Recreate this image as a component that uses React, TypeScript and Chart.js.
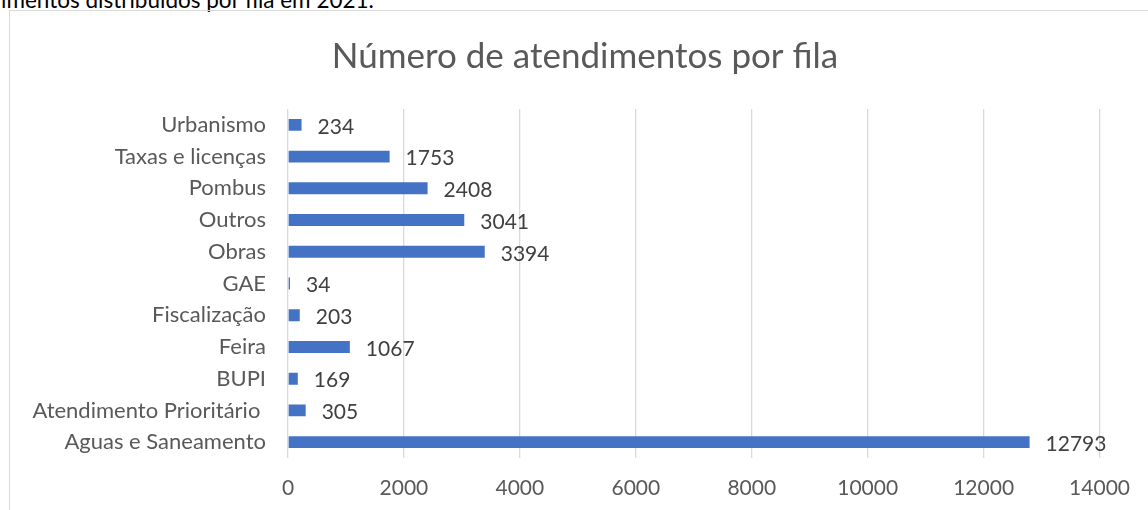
import React, { useEffect, useRef } from "react";
import { Chart, registerables } from "chart.js";

Chart.register(...registerables);

const categories = [
  "Urbanismo",
  "Taxas e licenças",
  "Pombus",
  "Outros",
  "Obras",
  "GAE",
  "Fiscalização",
  "Feira",
  "BUPI",
  "Atendimento Prioritário ",
  "Aguas e Saneamento",
];
const values = [234, 1753, 2408, 3041, 3394, 34, 203, 1067, 169, 305, 12793];
const chartTitle = "Número de atendimentos por fila";
const headerText = "imentos distribuídos por fila em 2021.";
const xMin = 0;
const xMax = 14000;
const xStep = 2000;

const FONT = "Lato, 'Open Sans', sans-serif";

const valueLabels = {
  id: "valueLabels",
  afterDatasetsDraw(chart: any) {
    const ctx = chart.ctx;
    const meta = chart.getDatasetMeta(0);
    ctx.save();
    ctx.font = `21px ${FONT}`;
    ctx.fillStyle = "#404040";
    ctx.textAlign = "left";
    ctx.textBaseline = "middle";
    meta.data.forEach((bar: any, i: number) => {
      ctx.fillText(String(values[i]), bar.x + 16, bar.y + 2);
    });
    ctx.restore();
  },
};

// Title centred on the chart frame (which starts at x=10 and runs past the right edge)
const frameTitle = {
  id: "frameTitle",
  afterDraw(chart: any) {
    const ctx = chart.ctx;
    ctx.save();
    ctx.font = `35px ${FONT}`;
    ctx.fillStyle = "#595959";
    ctx.textAlign = "center";
    ctx.textBaseline = "middle";
    ctx.fillText(chartTitle, 585, 57);
    ctx.restore();
  },
};

export default function App() {
  const ref = useRef<HTMLCanvasElement | null>(null);
  useEffect(() => {
    if (!ref.current) return;
    const chart = new Chart(ref.current, {
      type: "bar",
      data: {
        labels: categories,
        datasets: [
          {
            data: values,
            backgroundColor: "#4472C4",
            barPercentage: 0.47,
            categoryPercentage: 0.8,
          },
        ],
      },
      options: {
        indexAxis: "y",
        responsive: false,
        animation: false,
        layout: { padding: { left: 0, right: 47, top: 109, bottom: 0 } },
        plugins: {
          legend: { display: false },
          tooltip: { enabled: false },
          title: { display: false },
        },
        scales: {
          x: {
            min: xMin,
            max: xMax,
            ticks: {
              stepSize: xStep,
              color: "#595959",
              font: { family: FONT, size: 21 },
              padding: 18,
              callback: (v: any) => String(v),
            },
            grid: { color: "#D9D9D9", lineWidth: 1.3, drawTicks: false },
            border: { display: false },
            afterFit: (s: any) => {
              s.height = 52;
            },
          },
          y: {
            ticks: {
              color: "#595959",
              font: { family: FONT, size: 22 },
              padding: 22,
              autoSkip: false,
            },
            grid: { display: false, drawTicks: false },
            border: { display: false },
            afterFit: (s: any) => {
              s.width = 288;
            },
          },
        },
      },
      plugins: [valueLabels, frameTitle],
    });
    return () => chart.destroy();
  }, []);

  return (
    <div
      style={{
        position: "absolute",
        left: 0,
        top: 0,
        width: 1148,
        height: 510,
        overflow: "hidden",
        background: "#fff",
      }}
    >
      <div
        style={{
          position: "absolute",
          left: 1,
          top: -13,
          fontFamily: FONT,
          fontSize: 22.5,
          lineHeight: "26px",
          color: "#000",
          whiteSpace: "nowrap",
        }}
      >
        {headerText}
      </div>
      <div
        style={{
          position: "absolute",
          left: 9,
          top: 10,
          width: 1200,
          height: 600,
          borderLeft: "1px solid #D9D9D9",
          borderTop: "1px solid #D9D9D9",
        }}
      />
      <canvas
        ref={ref}
        width={1148}
        height={510}
        style={{ position: "absolute", left: 0, top: 0, width: 1148, height: 510 }}
      />
    </div>
  );
}
